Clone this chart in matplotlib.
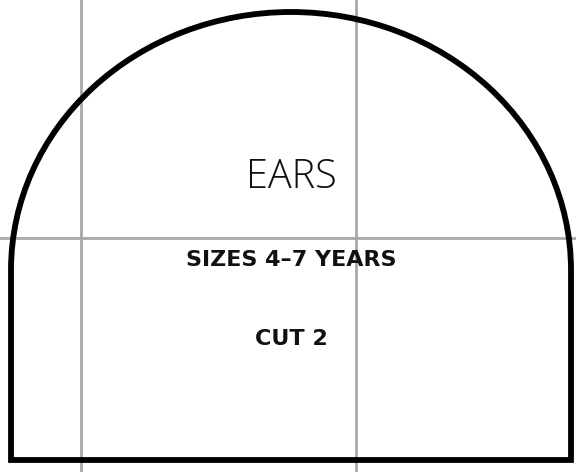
import matplotlib
matplotlib.use("Agg")
import matplotlib.pyplot as plt
from matplotlib.patches import Arc

# pattern grid (pixel units, y down)
grid_x = [81, 356]
grid_y = [238]

# piece outline: straight sides + bottom, elliptical top
left_x, right_x = 11, 571
bottom_y = 460
shoulder_y = 270
top_y = 12

title = "EARS"
size_label = "SIZES 4\u20137 YEARS"
cut_label = "CUT 2"

fig = plt.figure(figsize=(5.76, 4.72), dpi=100)
ax = fig.add_axes([0, 0, 1, 1])
ax.set_xlim(0, 576)
ax.set_ylim(472, 0)
ax.axis("off")

for gx in grid_x:
    ax.axvline(gx, color="#a8a8a8", lw=2, zorder=1)
for gy in grid_y:
    ax.axhline(gy, color="#a8a8a8", lw=2, zorder=1)

ax.plot([left_x, left_x, right_x, right_x],
        [shoulder_y, bottom_y, bottom_y, shoulder_y],
        color="black", lw=4.2, solid_joinstyle="miter", solid_capstyle="butt", zorder=3)

cx = (left_x + right_x) / 2
ax.add_patch(Arc((cx, shoulder_y), right_x - left_x, 2 * (shoulder_y - top_y),
                 theta1=180, theta2=360, color="black", lw=4.2, zorder=3))

ax.text(cx, 177, title, ha="center", va="center", fontsize=28.5,
        family=["Open Sans", "DejaVu Sans"], fontweight=300, color="#111111")
ax.text(cx, 260, size_label, ha="center", va="center", fontsize=16,
        family=["DejaVu Sans"], fontweight="bold", color="#111111")
ax.text(cx, 339, cut_label, ha="center", va="center", fontsize=16,
        family=["DejaVu Sans"], fontweight="bold", color="#111111")

fig.savefig("out.png", dpi=100)
